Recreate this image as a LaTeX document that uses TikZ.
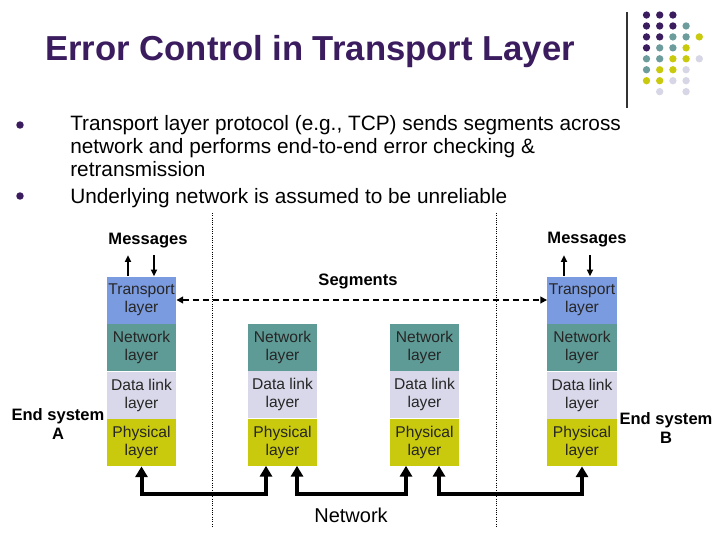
\documentclass[tikz,border=0pt]{standalone}
\usepackage{fontspec}
\setmainfont{Liberation Sans}
\usetikzlibrary{
  arrows.meta,
  positioning,
  calc
}
\definecolor{tlTitle}{HTML}{3B1C5E}
\definecolor{tlTrans}{HTML}{7B9BE0}
\definecolor{tlNet}{HTML}{5F9B96}
\definecolor{tlLink}{HTML}{D8D8EA}
\definecolor{tlPhys}{HTML}{C9C90E}
\definecolor{tlTeal}{HTML}{6C9C9C}
\definecolor{tlLav}{HTML}{D6D6E6}
\tikzset{
  tlbox/.style={
    minimum width=52pt, minimum height=35.25pt, inner sep=0pt,
    align=center, font=\fontsize{11.7}{13.5}\selectfont, text=black!85
  },
  trlayer/.style={tlbox, fill=tlTrans},
  netlayer/.style={tlbox, fill=tlNet},
  linklayer/.style={tlbox, fill=tlLink},
  phylayer/.style={tlbox, fill=tlPhys},
  tllabel/.style={font=\fontsize{12.4}{14.5}\selectfont\bfseries, align=center},
  bodytext/.style={font=\fontsize{15.6}{16.9}\selectfont, align=left, anchor=base west, inner sep=0pt},
  msgarrow/.style={-{Triangle[length=5pt, width=4.5pt]}, line width=1.3pt},
  segarrow/.style={{Triangle[length=5pt, width=5pt]}-{Triangle[length=5pt, width=5pt]},
    line width=1.4pt, dash pattern=on 4.5pt off 3pt},
  netlink/.style={{Triangle[length=8pt, width=9pt]}-{Triangle[length=8pt, width=9pt]},
    line width=3pt},
  divider/.style={line width=0.5pt, dash pattern=on 0.5pt off 1.2pt}
}

\begin{document}
\begin{tikzpicture}[x=0.75pt, y=-0.75pt]
  \useasboundingbox[fill=white] (0,0) rectangle (720,540);

  % slide decoration
  \draw[black!80, line width=0.8pt] (627,12) -- (627,108);
  \foreach \c/\r/\col in {0/0/tlTitle, 1/0/tlTitle, 2/0/tlTitle,
      0/1/tlTitle, 1/1/tlTitle, 2/1/tlTitle, 3/1/tlTeal,
      0/2/tlTitle, 1/2/tlTitle, 2/2/tlTeal, 3/2/tlTeal, 4/2/tlPhys,
      0/3/tlTitle, 1/3/tlTeal, 2/3/tlTeal, 3/3/tlPhys,
      0/4/tlTeal, 1/4/tlTeal, 2/4/tlPhys, 3/4/tlPhys, 4/4/tlLav,
      0/5/tlTeal, 1/5/tlPhys, 2/5/tlPhys, 3/5/tlLav,
      0/6/tlPhys, 1/6/tlPhys, 2/6/tlLav, 3/6/tlLav,
      1/7/tlLav, 3/7/tlLav}
    \fill[\col] (646.5+13.2*\c, 15+10.95*\r) circle (2.75pt);

  % title and bullets
  \node[anchor=base west, inner sep=0pt, text=tlTitle,
    font=\fontsize{26}{30}\selectfont\bfseries] (title) at (45,60) {Error Control in Transport Layer};
  \fill[tlTitle] (20,125) circle (2.8pt);
  \fill[tlTitle] (20,196) circle (2.8pt);
  \node[bodytext] (pt1) at (70,176) {Transport layer protocol (e.g., TCP) sends segments across\\
    network and performs end-to-end error checking \&\\retransmission};
  \node[bodytext] (pt2) at (70,203) {Underlying network is assumed to be unreliable};

  % dotted separators
  \draw[divider] (212,213) -- (212,527);
  \draw[divider] (496,213) -- (496,527);

  % end system A
  \node[trlayer] (trA) at (141.5,300) {Transport\\layer};
  \node[netlayer, below=0pt of trA] (nwA) {Network\\layer};
  \node[linklayer, below=0pt of nwA] (dlA) {Data link\\layer};
  \node[phylayer, below=0pt of dlA] (phA) {Physical\\layer};

  % router 1
  \node[netlayer] (nwR1) at (282.5,347) {Network\\layer};
  \node[linklayer, below=0pt of nwR1] (dlR1) {Data link\\layer};
  \node[phylayer, below=0pt of dlR1] (phR1) {Physical\\layer};

  % router 2
  \node[netlayer] (nwR2) at (424.5,347) {Network\\layer};
  \node[linklayer, below=0pt of nwR2] (dlR2) {Data link\\layer};
  \node[phylayer, below=0pt of dlR2] (phR2) {Physical\\layer};

  % end system B
  \node[trlayer] (trB) at (582,300) {Transport\\layer};
  \node[netlayer, below=0pt of trB] (nwB) {Network\\layer};
  \node[linklayer, below=0pt of nwB] (dlB) {Data link\\layer};
  \node[phylayer, below=0pt of dlB] (phB) {Physical\\layer};

  % labels
  \node[tllabel] (msgA) at (148,241) {Messages};
  \node[tllabel] (msgB) at (587,240) {Messages};
  \node[tllabel] (seg) at (358,281) {Segments};
  \node[tllabel] (esA) at (58,424) {End system\\A};
  \node[tllabel] (esB) at (666,428) {End system\\B};
  \node[font=\fontsize{15}{18}\selectfont] (net) at (351,515) {Network};

  % message arrows
  \draw[msgarrow] ($(trA.north)+(-13.5,0)$) -- ($(trA.north)+(-13.5,-21)$);
  \draw[msgarrow] ($(trA.north)+(12.5,-21)$) -- ($(trA.north)+(12.5,0)$);
  \draw[msgarrow] ($(trB.north)+(-18,0)$) -- ($(trB.north)+(-18,-21)$);
  \draw[msgarrow] ($(trB.north)+(8,-21)$) -- ($(trB.north)+(8,0)$);

  % segments between transport layers
  \draw[segarrow] (trA.east) -- (trB.west);

  % physical links
  \draw[netlink] (phA.south) -- ++(0,28) -| ($(phR1.south)+(-16.5,0)$);
  \draw[netlink] ($(phR1.south)+(14.5,0)$) -- ++(0,28) -| ($(phR2.south)+(-18.5,0)$);
  \draw[netlink] ($(phR2.south)+(14.5,0)$) -- ++(0,28) -| (phB.south);
\end{tikzpicture}
\end{document}
